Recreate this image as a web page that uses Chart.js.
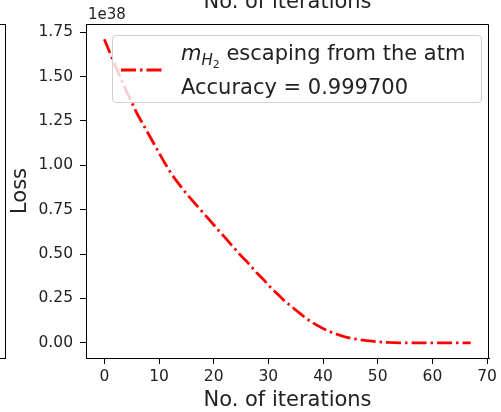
<!DOCTYPE html>
<html>
<head>
<meta charset="utf-8">
<script src="https://cdn.jsdelivr.net/npm/chart.js@4.4.1/dist/chart.umd.min.js"></script>
<style>
  body { margin: 0; background: #fff; }
  #wrap { position: relative; width: 501px; height: 412px; overflow: hidden; font-family: "DejaVu Sans", sans-serif; }
  #legend { position: absolute; left: 112px; top: 35px; width: 370px; height: 68px; box-sizing: border-box;
            border: 1px solid #d0d0d0; border-radius: 4px; background: rgba(255,255,255,0.8); }
  #legend svg { position: absolute; left: 8px; top: 31px; }
  #legend .txt { position: absolute; left: 68px; top: 2px; font-size: 21px; line-height: 30px; color: #222; white-space: nowrap; }
  #legend .sub { font-size: 15px; position: relative; top: 5px; }
  #legend .sub2 { font-size: 11px; font-style: normal; position: relative; top: 3px; }
</style>
</head>
<body>
<div id="wrap">
  <canvas id="loss-chart" width="501" height="412"></canvas>
  <div id="legend">
    <svg width="44" height="6"><line id="legend-line" x1="0" y1="3" x2="42" y2="3" /></svg>
    <div class="txt"><i>m</i><span class="sub"><i>H</i><span class="sub2">2</span></span> escaping from the atm<br>Accuracy = 0.999700</div>
  </div>
</div>
<script>
// loss per iteration, in units of 1e38
const lossExponent = 38;
const lossValues = [
  1.71, 1.635, 1.56, 1.49, 1.42, 1.355, 1.29, 1.235, 1.18, 1.125,
  1.07, 1.015, 0.965, 0.92, 0.88, 0.84, 0.805, 0.77, 0.735, 0.70,
  0.665, 0.63, 0.595, 0.56, 0.525, 0.49, 0.46, 0.425, 0.39, 0.36,
  0.325, 0.295, 0.265, 0.235, 0.21, 0.185, 0.16, 0.135, 0.115, 0.097,
  0.08, 0.066, 0.053, 0.043, 0.034, 0.027, 0.021, 0.016, 0.012, 0.009,
  0.006, 0.004, 0.002, 0.001, 0, 0, 0, 0, 0, 0,
  0, 0, 0, 0, 0, 0, 0, 0
];
const iterations = lossValues.map((_, i) => i);
const seriesLabel = "m_H2 escaping from the atm";
const accuracy = 0.9997;

const lineColor = "#ff0000";
const lineWidth = 2.8;
const lineDash = [15, 4, 2.5, 4];
const textColor = "#222";

// matplotlib style 5% margins
const xMax = iterations[iterations.length - 1];
const yMax = Math.max(...lossValues);

const legendLine = document.getElementById("legend-line");
legendLine.setAttribute("stroke", lineColor);
legendLine.setAttribute("stroke-width", lineWidth);
legendLine.setAttribute("stroke-dasharray", lineDash.join(" "));

const extras = {
  id: "extras",
  afterDraw(chart) {
    const { ctx, chartArea: a } = chart;
    ctx.save();
    ctx.strokeStyle = "#000";
    ctx.lineWidth = 1;
    // top and right spines
    ctx.beginPath();
    ctx.moveTo(a.left, a.top + 0.5);
    ctx.lineTo(a.right - 0.5, a.top + 0.5);
    ctx.lineTo(a.right - 0.5, a.bottom);
    ctx.stroke();
    // edge of the neighbouring subplot
    ctx.strokeRect(-20, a.top + 0.5, 25.5, a.bottom - a.top);
    ctx.fillStyle = textColor;
    ctx.font = "15px 'DejaVu Sans'";
    ctx.textAlign = "left";
    ctx.textBaseline = "alphabetic";
    ctx.fillText("1e" + lossExponent, a.left + 2, a.top - 5);
    ctx.font = "21px 'DejaVu Sans'";
    ctx.textAlign = "center";
    ctx.fillText("No. of iterations", (a.left + a.right) / 2, 8);
    ctx.restore();
  }
};

new Chart(document.getElementById("loss-chart"), {
  type: "line",
  data: {
    labels: iterations,
    datasets: [{
      label: seriesLabel + " Accuracy = " + accuracy.toFixed(6),
      data: lossValues,
      borderColor: lineColor,
      borderWidth: lineWidth,
      borderDash: lineDash,
      borderCapStyle: "butt",
      pointRadius: 0,
      tension: 0,
      fill: false,
    }],
  },
  options: {
    responsive: false,
    animation: false,
    layout: { padding: { top: 24, right: 8, left: 0, bottom: 0 } },
    plugins: { legend: { display: false }, tooltip: { enabled: false } },
    scales: {
      x: {
        type: "linear",
        min: -0.05 * xMax,
        max: 1.05 * xMax,
        afterFit: (s) => { s.height = 54; },
        border: { display: true, color: "#000", width: 1 },
        grid: { drawOnChartArea: false, color: "#000", tickLength: 6 },
        ticks: { stepSize: 10, includeBounds: false, padding: 4, color: textColor,
                 font: { family: "DejaVu Sans", size: 15.5 } },
        title: { display: true, text: "No. of iterations", color: textColor,
                 font: { family: "DejaVu Sans", size: 21, lineHeight: 1 }, padding: { top: 0, bottom: 1 } },
      },
      y: {
        min: -0.05 * yMax,
        max: 1.05 * yMax,
        afterFit: (s) => { s.width = 86; },
        border: { display: true, color: "#000", width: 1 },
        grid: { drawOnChartArea: false, color: "#000", tickLength: 6 },
        ticks: { stepSize: 0.25, includeBounds: false, padding: 7, color: textColor,
                 font: { family: "DejaVu Sans", size: 15.5 },
                 callback: (v) => v.toFixed(2) },
        title: { display: true, text: "Loss", color: textColor,
                 font: { family: "DejaVu Sans", size: 21, lineHeight: 1 }, padding: { top: 10, bottom: 0 } },
      },
    },
  },
  plugins: [extras],
});
</script>
</body>
</html>
